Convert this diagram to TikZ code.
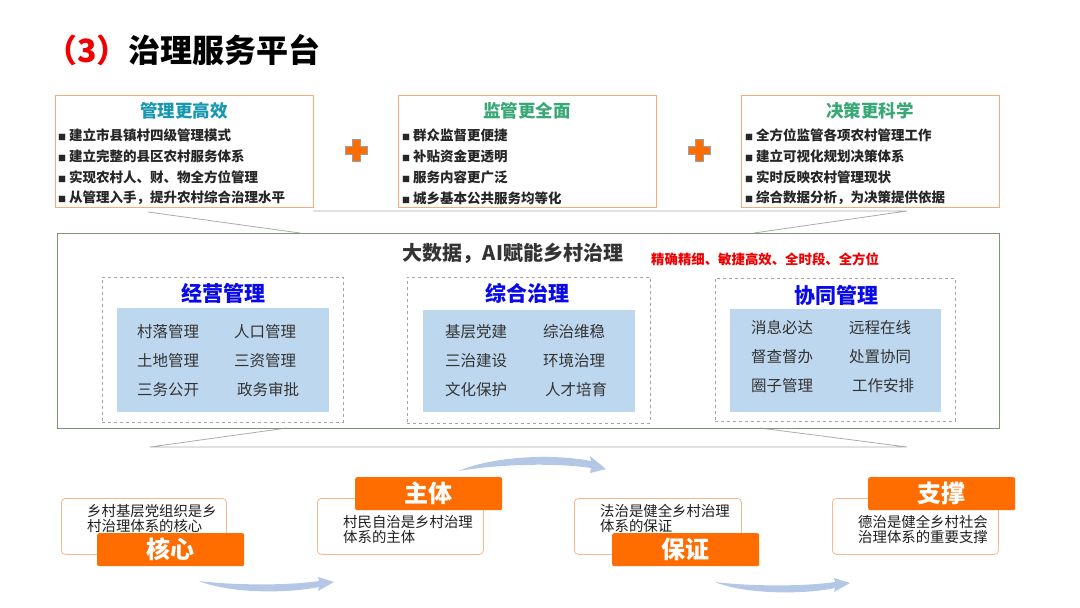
\documentclass[tikz,border=0pt]{standalone}
\usepackage{fontspec}
\setmainfont{Noto Sans CJK SC}
\definecolor{boxor}{RGB}{247,172,120}
\definecolor{teal1}{RGB}{24,152,176}
\definecolor{green1}{RGB}{58,168,118}
\definecolor{bultext}{RGB}{38,38,38}
\definecolor{panelc}{RGB}{128,150,108}
\definecolor{dashc}{RGB}{165,165,165}
\definecolor{bluefill}{RGB}{189,215,238}
\definecolor{bluetitle}{RGB}{10,10,232}
\definecolor{itemc}{RGB}{51,51,51}
\definecolor{orangel}{RGB}{255,108,0}
\definecolor{cardor}{RGB}{249,185,140}
\definecolor{arcblue}{RGB}{180,199,231}
\definecolor{redt}{RGB}{240,0,0}
\definecolor{plusedge}{RGB}{150,160,175}
\definecolor{glinec}{RGB}{172,172,172}
\newcommand{\bsq}{\makebox[11pt][l]{\fontsize{8}{8}\selectfont ■}}
\begin{document}
\begin{tikzpicture}[x=1pt,y=-1pt,
  topbox/.style={draw=boxor, line width=1pt, anchor=north west, inner sep=0pt, minimum width=258pt, minimum height=112pt},
  boxtitle/.style={inner sep=0pt, font=\fontsize{17.5}{20}\selectfont\bfseries},
  bulline/.style={inner sep=0pt, anchor=west, text=bultext, font=\fontsize{13.5}{16}\selectfont\bfseries},
  innerbox/.style={draw=dashc, dashed, line width=0.7pt, anchor=north west, inner sep=0pt, fill=white},
  bluebox/.style={fill=bluefill, anchor=north west, inner sep=0pt},
  innertitle/.style={inner sep=0pt, text=bluetitle, font=\fontsize{21}{24}\selectfont\bfseries},
  item/.style={inner sep=0pt, anchor=west, text=itemc, font=\fontsize{15.5}{18}\selectfont},
  card/.style={draw=cardor, line width=0.8pt, rounded corners=4pt, fill=white, anchor=north west, inner sep=0pt, minimum width=166pt, minimum height=56pt},
  cardtext/.style={inner sep=0pt, anchor=west, text=black!88, font=\fontsize{14.4}{16}\selectfont},
  lab/.style={fill=orangel, rounded corners=2pt, anchor=north west, inner sep=0pt, minimum width=147pt, minimum height=33pt, text=white, font=\fontsize{24}{26}\selectfont\bfseries},
  gline/.style={draw=glinec, line width=0.8pt},
  plusshape/.style={fill=orangel, draw=plusedge, line width=0.5pt}
]
\useasboundingbox (0,0) rectangle (1080,608);
\fill[white] (0,0) rectangle (1080,608);

% title
\node (title) [inner sep=0pt, anchor=west, font=\fontsize{32}{36}\selectfont\bfseries] at (45,50) {\textcolor{redt}{（3）}治理服务平台};

% trapezoid lines
\draw[gline] (148,212) -- (300,233);
\draw[gline] (313,211) -- (907,211) -- (754,233);
\draw[gline] (287,428) -- (150,447) -- (907,447) -- (760,428);

% top boxes
\node (b1) [topbox] at (55,95) {};
\node (b2) [topbox] at (398,95) {};
\node (b3) [topbox] at (741,95) {};

\node (t1) [boxtitle, text=teal1] at (184,111) {管理更高效};
\node (t2) [boxtitle, text=green1] at (527,111) {监管更全面};
\node (t3) [boxtitle, text=green1] at (870,111) {决策更科学};

\node (b1l1) [bulline] at (58,135) {\bsq 建立市县镇村四级管理模式};
\node (b1l2) [bulline] at (58,156) {\bsq 建立完整的县区农村服务体系};
\node (b1l3) [bulline] at (58,177) {\bsq 实现农村人、财、物全方位管理};
\node (b1l4) [bulline] at (58,198) {\bsq 从管理入手，提升农村综合治理水平};

\node (b2l1) [bulline] at (402,135) {\bsq 群众监督更便捷};
\node (b2l2) [bulline] at (402,156) {\bsq 补贴资金更透明};
\node (b2l3) [bulline] at (402,177) {\bsq 服务内容更广泛};
\node (b2l4) [bulline] at (402,198) {\bsq 城乡基本公共服务均等化};

\node (b3l1) [bulline] at (745,135) {\bsq 全方位监管各项农村管理工作};
\node (b3l2) [bulline] at (745,156) {\bsq 建立可视化规划决策体系};
\node (b3l3) [bulline] at (745,177) {\bsq 实时反映农村管理现状};
\node (b3l4) [bulline] at (745,198) {\bsq 综合数据分析，为决策提供依据};

% plus signs
\path[plusshape] (352,139) -- (360,139) -- (360,146) -- (367,146) -- (367,154) -- (360,154) -- (360,161) -- (352,161) -- (352,154) -- (345,154) -- (345,146) -- (352,146) -- cycle;
\path[plusshape] (695,139) -- (703,139) -- (703,146) -- (710,146) -- (710,154) -- (703,154) -- (703,161) -- (695,161) -- (695,154) -- (688,154) -- (688,146) -- (695,146) -- cycle;

% middle panel
\node (panel) [draw=panelc, line width=1.2pt, anchor=north west, inner sep=0pt, minimum width=942pt, minimum height=195pt] at (57,233) {};
\node (head) [inner sep=0pt, text=black!80, font=\fontsize{20}{24}\selectfont\bfseries] at (513,253) {大数据，AI赋能乡村治理};
\node (headred) [inner sep=0pt, anchor=west, text=redt, font=\fontsize{13.4}{16}\selectfont\bfseries] at (651,259) {精确精细、敏捷高效、全时段、全方位};

% inner boxes
\node (in1) [innerbox, minimum width=241pt, minimum height=145pt] at (102,277) {};
\node (in2) [innerbox, minimum width=243pt, minimum height=146pt] at (407,277) {};
\node (in3) [innerbox, minimum width=240pt, minimum height=143pt] at (715,278) {};
\node (bl1) [bluebox, minimum width=212pt, minimum height=104pt] at (117,308) {};
\node (bl2) [bluebox, minimum width=212pt, minimum height=102pt] at (423,310) {};
\node (bl3) [bluebox, minimum width=211pt, minimum height=103pt] at (730,309) {};

\node (it1) [innertitle] at (223,293) {经营管理};
\node (it2) [innertitle] at (527,293) {综合治理};
\node (it3) [innertitle] at (836,295) {协同管理};

\node (i11) [item] at (137,332) {村落管理};
\node (i12) [item] at (234,332) {人口管理};
\node (i13) [item] at (137,361) {土地管理};
\node (i14) [item] at (234,361) {三资管理};
\node (i15) [item] at (137,390) {三务公开};
\node (i16) [item] at (237,390) {政务审批};

\node (i21) [item] at (445,332) {基层党建};
\node (i22) [item] at (543,332) {综治维稳};
\node (i23) [item] at (445,361) {三治建设};
\node (i24) [item] at (543,361) {环境治理};
\node (i25) [item] at (445,390) {文化保护};
\node (i26) [item] at (545,390) {人才培育};

\node (i31) [item] at (751,328) {消息必达};
\node (i32) [item] at (849,328) {远程在线};
\node (i33) [item] at (751,357) {督查督办};
\node (i34) [item] at (849,357) {处置协同};
\node (i35) [item] at (751,386) {圈子管理};
\node (i36) [item] at (852,386) {工作安排};

% arcs
\fill[arcblue] (459,471) .. controls (490,457) and (550,453) .. (591,461) -- (590,456) -- (606,469) -- (590,473) -- (591,468) .. controls (550,462) and (492,465) .. (459,471) -- cycle;
\fill[arcblue] (199,581) .. controls (228,593) and (285,594) .. (319,587) -- (318,591) -- (334,582) -- (318,577) -- (319,581) .. controls (285,586) and (230,585) .. (199,581) -- cycle;
\fill[arcblue] (715,582) .. controls (744,594) and (801,595) .. (835,588) -- (834,592) -- (850,583) -- (834,578) -- (835,582) .. controls (801,587) and (746,586) .. (715,582) -- cycle;

% cards
\node (c1) [card, minimum width=165pt] at (61,498) {};
\node (c2) [card] at (317,498) {};
\node (c3) [card, minimum width=167pt] at (574,498) {};
\node (c4) [card] at (832,498) {};

\node (c1a) [cardtext] at (87,511) {乡村基层党组织是乡};
\node (c1b) [cardtext] at (87,526) {村治理体系的核心};
\node (c2a) [cardtext] at (343,522) {村民自治是乡村治理};
\node (c2b) [cardtext] at (343,537) {体系的主体};
\node (c3a) [cardtext] at (600,511) {法治是健全乡村治理};
\node (c3b) [cardtext] at (600,526) {体系的保证};
\node (c4a) [cardtext] at (858,522) {德治是健全乡村社会};
\node (c4b) [cardtext] at (858,537) {治理体系的重要支撑};

\node (l1) [lab] at (97,533) {核心};
\node (l2) [lab] at (355,477) {主体};
\node (l3) [lab] at (612,533) {保证};
\node (l4) [lab] at (868,477) {支撑};
\end{tikzpicture}
\end{document}
